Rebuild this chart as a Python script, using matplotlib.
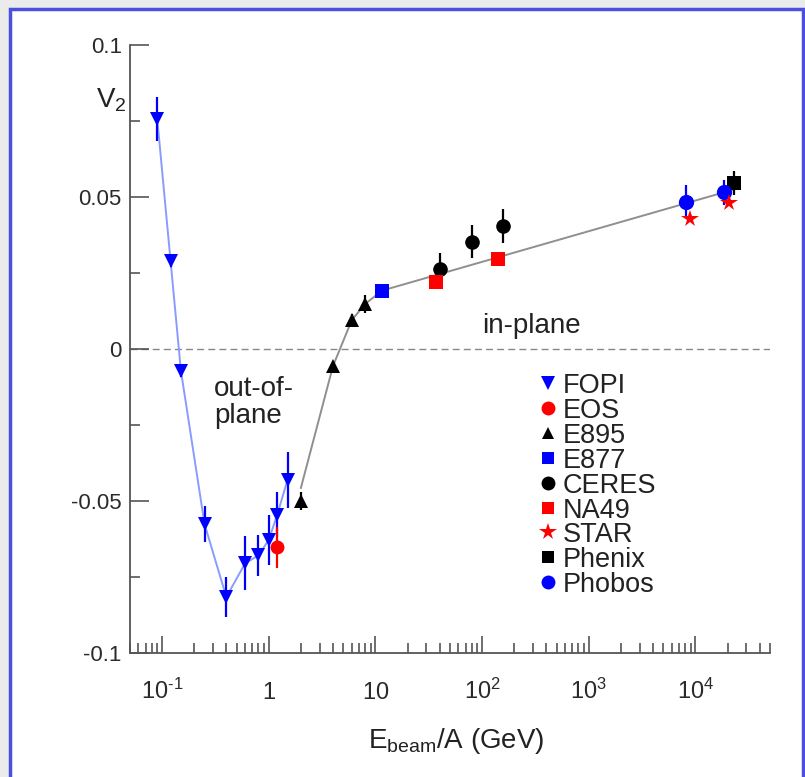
import matplotlib
matplotlib.use("Agg")
import matplotlib.pyplot as plt
from matplotlib.patches import Rectangle
from matplotlib.ticker import FixedLocator, FixedFormatter, LogLocator, MultipleLocator, NullFormatter

plt.rcParams['font.family'] = ['Liberation Sans', 'DejaVu Sans']
plt.rcParams['mathtext.fontset'] = 'custom'
plt.rcParams['mathtext.rm'] = 'Liberation Sans'
plt.rcParams['mathtext.it'] = 'Liberation Sans:italic'
plt.rcParams['mathtext.bf'] = 'Liberation Sans:bold'
plt.rcParams['mathtext.default'] = 'regular'

# ---- elliptic flow v2 vs beam energy per nucleon ----
fopi_e = [0.09, 0.12, 0.15, 0.25, 0.4, 0.6, 0.8, 1.0, 1.2, 1.5]
fopi_v2 = [0.0757, 0.029, -0.0071, -0.0576, -0.0816, -0.0705, -0.0679, -0.0628, -0.0545, -0.0430]
fopi_err = [0.0073, 0.002, 0.002, 0.006, 0.0066, 0.0089, 0.0068, 0.0082, 0.0074, 0.0092]

eos_e = [1.2]
eos_v2 = [-0.0652]
eos_err = [0.0068]

e895_e = [2, 4, 6, 8]
e895_v2 = [-0.0499, -0.0056, 0.0095, 0.0148]
e895_err = [0.003, 0.001, 0.002, 0.003]

e877_e = [11.5]
e877_v2 = [0.0192]

ceres_e = [40, 80, 158]
ceres_v2 = [0.0262, 0.0353, 0.0405]
ceres_err = [0.0055, 0.0055, 0.0055]

na49_e = [37, 142]
na49_v2 = [0.0221, 0.0295]

star_e = [8800, 20800]
star_v2 = [0.0427, 0.0479]

phenix_e = [23100]
phenix_v2 = [0.0547]
phenix_err = [0.004]

phobos_e = [8100, 18700]
phobos_v2 = [0.0485, 0.0515]
phobos_err = [0.0055, 0.004]

# guide line through the AGS -> RHIC systematics
trend_e = [2, 4, 6, 8, 11.5, 23100]
trend_v2 = [-0.0457, -0.0056, 0.0095, 0.0148, 0.0192, 0.0525]

x_ticks = [0.1, 1, 10, 100, 1000, 10000]
x_ticklabels = ['$10^{\\text{-}1}$', '$1$', '$10$', '$10^{2}$', '$10^{3}$', '$10^{4}$']
y_ticks = [-0.1, -0.05, 0, 0.05, 0.1]
y_ticklabels = ['-0.1', '-0.05', '0', '0.05', '0.1']

W, H = 805, 777
fig = plt.figure(figsize=(W / 100, H / 100), dpi=100)
fig.patch.set_facecolor('#ebebeb')
fig.patches.append(Rectangle((10 / W, -0.05), 793 / W, 1.05 - 9 / H,
                             transform=fig.transFigure, facecolor='white',
                             edgecolor='#4b50dc', linewidth=2.5, zorder=-5))

ax = fig.add_axes([130 / W, 124 / H, 640 / W, 608 / H])
ax.set_facecolor('none')
ax.set_xscale('log')
ax.set_xlim(0.05, 5e4)
ax.set_ylim(-0.1, 0.1)

# zero line
ax.axhline(0, color='#888888', lw=1.0, ls=(0, (5, 3)), zorder=1)

# curves
ax.plot(fopi_e, fopi_v2, color='#8a9bff', lw=1.4, zorder=2)
ax.plot(trend_e, trend_v2, color='#8f8f8f', lw=1.4, zorder=2)

def series(x, y, err, marker, color, ms):
    if err is not None:
        ax.errorbar(x, y, yerr=err, fmt='none', ecolor=color, elinewidth=1.6,
                    capsize=0, zorder=3)
    ax.plot(x, y, ls='none', marker=marker, color=color, ms=ms,
            markeredgewidth=0, zorder=4)

series(fopi_e, fopi_v2, fopi_err, 'v', '#0000ff', 10.5)
series(e895_e, e895_v2, e895_err, '^', 'black', 9.5)
series(e877_e, e877_v2, None, 's', '#0000ff', 9.5)
series(ceres_e, ceres_v2, ceres_err, 'o', 'black', 10.5)
series(na49_e, na49_v2, None, 's', '#ff0000', 10)
series(phenix_e, phenix_v2, phenix_err, 's', 'black', 9.5)
series(phobos_e, phobos_v2, phobos_err, 'o', '#0000ff', 11)
series(star_e, star_v2, None, '*', '#ff0000', 13)
series(eos_e, eos_v2, eos_err, 'o', '#ff0000', 10)

# axes styling
for s in ['top', 'right']:
    ax.spines[s].set_visible(False)
for s in ['left', 'bottom']:
    ax.spines[s].set_color('#555555')
    ax.spines[s].set_linewidth(1.3)

ax.xaxis.set_major_locator(FixedLocator(x_ticks))
ax.xaxis.set_major_formatter(FixedFormatter(x_ticklabels))
ax.xaxis.set_minor_locator(LogLocator(base=10, subs=range(2, 10), numticks=20))
ax.xaxis.set_minor_formatter(NullFormatter())
ax.yaxis.set_major_locator(FixedLocator(y_ticks))
ax.yaxis.set_major_formatter(FixedFormatter(y_ticklabels))
ax.yaxis.set_minor_locator(MultipleLocator(0.025))

ax.tick_params(axis='both', which='both', direction='in', color='#555555',
               width=1.2, labelcolor='#2a2a2a', labelsize=16)
ax.tick_params(axis='x', which='major', length=12, pad=33, labelsize=17)
ax.tick_params(axis='x', which='minor', length=7)
ax.tick_params(axis='y', which='major', length=14, pad=6)
ax.tick_params(axis='y', which='minor', length=7)
for lbl in ax.xaxis.get_majorticklabels():
    lbl.set_verticalalignment('baseline')

# annotations
ax.text(100, 0.0054, 'in-plane', fontsize=20, color='#222222', va='baseline', ha='left')
ax.text(0.306, -0.0153, 'out-of-', fontsize=20, color='#222222', va='baseline', ha='left')
ax.text(0.306, -0.0245, 'plane', fontsize=20, color='#222222', va='baseline', ha='left')

fig.text(96 / W, 1 - 108 / H, 'V$_2$', fontsize=20, color='#222222', va='baseline', ha='left')
fig.text(456 / W, 1 - 748 / H, 'E$_{beam}$/A (GeV)', fontsize=20, color='#222222',
         va='baseline', ha='center')

# legend
legend_items = [
    ('FOPI', 'v', '#0000ff', 10),
    ('EOS', 'o', '#ff0000', 10),
    ('E895', '^', 'black', 8),
    ('E877', 's', '#0000ff', 9),
    ('CERES', 'o', 'black', 10),
    ('NA49', 's', '#ff0000', 9),
    ('STAR', '*', '#ff0000', 13),
    ('Phenix', 's', 'black', 9),
    ('Phobos', 'o', '#0000ff', 10),
]
x_mark = (548 - 130) / 640
x_text = (563 - 130) / 640
y0 = (653 - 383) / 608
dy = 24.9 / 608
for i, (name, mk, col, ms) in enumerate(legend_items):
    yy = y0 - i * dy
    ax.plot([x_mark], [yy], transform=ax.transAxes, ls='none', marker=mk,
            color=col, ms=ms, markeredgewidth=0, clip_on=False)
    ax.text(x_text, yy, name, transform=ax.transAxes, fontsize=19.5,
            color='#222222', va='center_baseline', ha='left')

fig.savefig('out.png', dpi=100, facecolor=fig.get_facecolor())
